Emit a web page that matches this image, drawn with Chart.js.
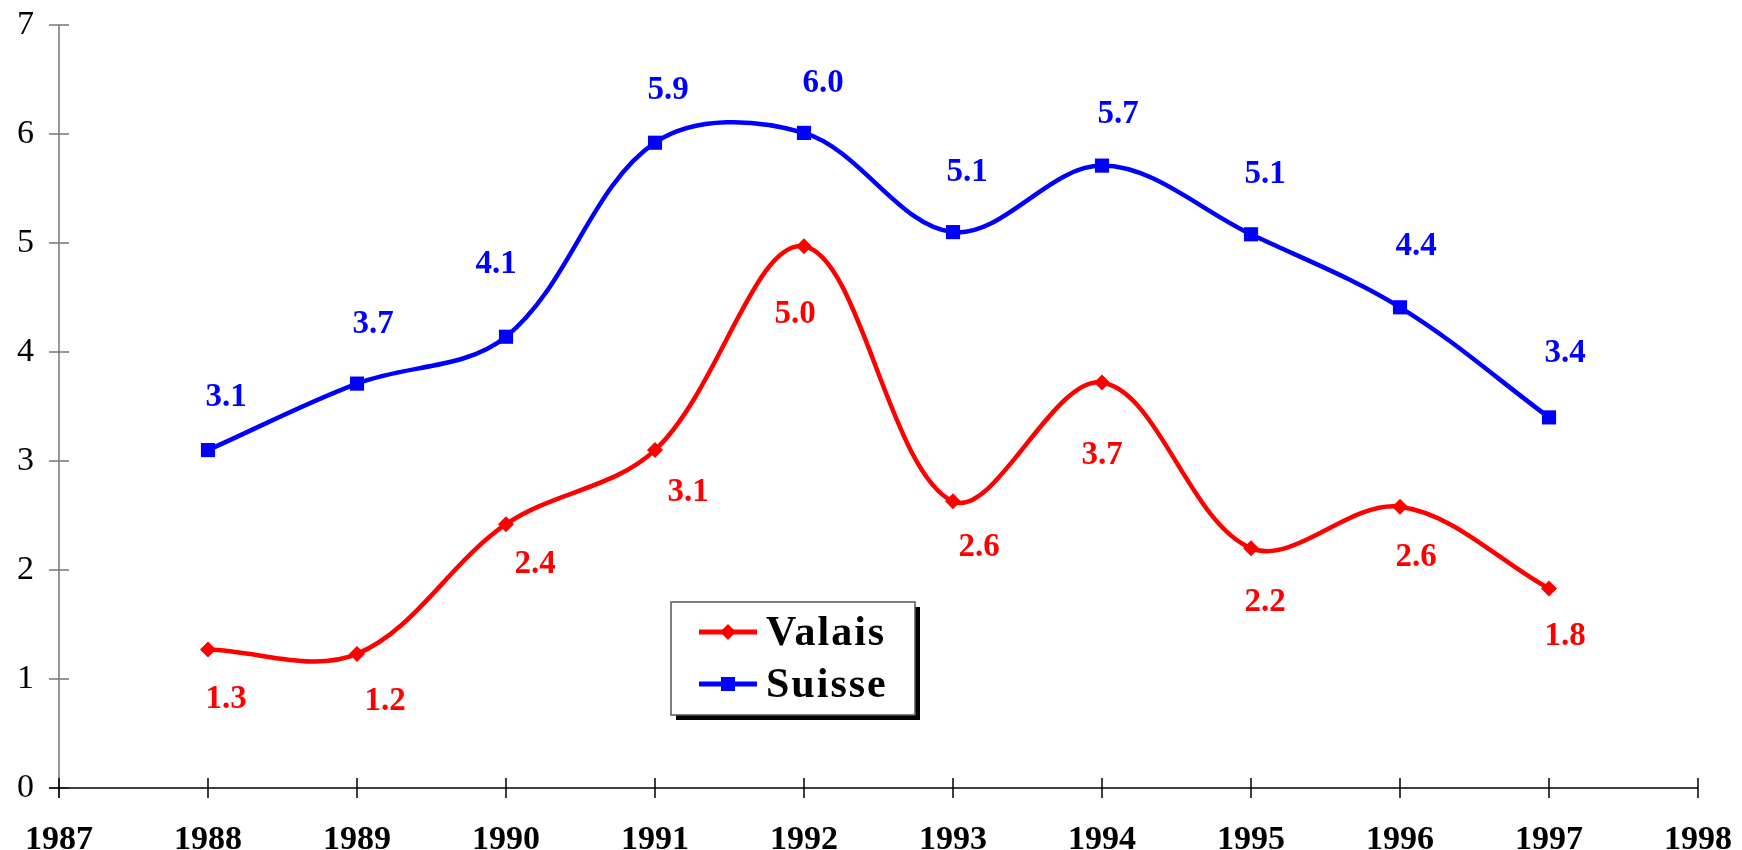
<!DOCTYPE html>
<html>
<head>
<meta charset="utf-8">
<script src="https://cdn.jsdelivr.net/npm/chart.js@4"></script>
<style>
  html, body { margin: 0; padding: 0; background: #fff; }
  #wrap { width: 1742px; height: 850px; }
</style>
</head>
<body>
<div id="wrap"><canvas id="myChart" width="1742" height="850"></canvas></div>
<script>
const years = [1988, 1989, 1990, 1991, 1992, 1993, 1994, 1995, 1996, 1997];
const valais = [1.27, 1.23, 2.42, 3.10, 4.97, 2.63, 3.72, 2.20, 2.58, 1.83];
const suisse = [3.10, 3.71, 4.14, 5.92, 6.01, 5.10, 5.71, 5.08, 4.41, 3.40];
const yTicks = [0, 1, 2, 3, 4, 5, 6, 7];
const xTicks = [1987, 1988, 1989, 1990, 1991, 1992, 1993, 1994, 1995, 1996, 1997, 1998];

// label offsets in px (dx, dy) from each point, like the original layout
const valaisOffsets = [[18, 50], [28, 48], [29, 40], [33, 42], [-9, 68], [26, 46], [0, 73], [14, 54], [16, 51], [16, 48]];
const suisseOffsets = [[18, -53], [16, -59], [-10, -72], [13, -52], [19, -49], [14, -60], [16, -51], [14, -60], [16, -61], [16, -64]];

const serif = '"Liberation Serif", "Times New Roman", serif';

const axesPlugin = {
  id: 'axes',
  afterDraw(chart) {
    const ctx = chart.ctx;
    const x = chart.scales.x;
    const y = chart.scales.y;
    const x0 = x.getPixelForValue(1987);
    const y0 = y.getPixelForValue(0);
    ctx.save();
    ctx.lineWidth = 1.5;
    // y axis
    ctx.strokeStyle = '#777';
    ctx.beginPath();
    ctx.moveTo(x0, y.getPixelForValue(7));
    ctx.lineTo(x0, y0 + 10);
    yTicks.forEach((v) => {
      const py = y.getPixelForValue(v);
      ctx.moveTo(x0 - 10, py);
      ctx.lineTo(x0 + 10, py);
    });
    ctx.stroke();
    // x axis
    ctx.strokeStyle = '#000';
    ctx.beginPath();
    ctx.moveTo(x0 - 10, y0);
    ctx.lineTo(x.getPixelForValue(1998), y0);
    xTicks.forEach((v) => {
      const px = x.getPixelForValue(v);
      ctx.moveTo(px, y0 - 10);
      ctx.lineTo(px, y0 + 10);
    });
    ctx.stroke();
    ctx.restore();
  },
};

const labelsPlugin = {
  id: 'pointLabels',
  afterDatasetsDraw(chart) {
    const ctx = chart.ctx;
    ctx.save();
    ctx.font = 'bold 33px ' + serif;
    ctx.textAlign = 'center';
    ctx.textBaseline = 'middle';
    chart.data.datasets.forEach((ds, i) => {
      const meta = chart.getDatasetMeta(i);
      const offs = ds.labelOffsets;
      ctx.fillStyle = ds.borderColor;
      meta.data.forEach((pt, j) => {
        const v = ds.data[j].y;
        ctx.fillText(v.toFixed(1), pt.x + offs[j][0], pt.y + offs[j][1]);
      });
    });
    ctx.restore();
  },
};

const legendPlugin = {
  id: 'boxLegend',
  afterDraw(chart) {
    const ctx = chart.ctx;
    const bx = 671, by = 602, bw = 244, bh = 113;
    ctx.save();
    ctx.fillStyle = '#000';
    ctx.fillRect(bx + 5, by + 5, bw, bh);
    ctx.fillStyle = '#fff';
    ctx.fillRect(bx, by, bw, bh);
    ctx.strokeStyle = '#555';
    ctx.lineWidth = 1.5;
    ctx.strokeRect(bx, by, bw, bh);
    const rows = [
      { text: 'Valais', color: '#ff0000', y: by + 30, diamond: true },
      { text: 'Suisse', color: '#0000ff', y: by + 82, diamond: false },
    ];
    rows.forEach((r) => {
      ctx.strokeStyle = r.color;
      ctx.fillStyle = r.color;
      ctx.lineWidth = 5;
      ctx.beginPath();
      ctx.moveTo(bx + 28, r.y);
      ctx.lineTo(bx + 86, r.y);
      ctx.stroke();
      const cx = bx + 57;
      if (r.diamond) {
        ctx.beginPath();
        ctx.moveTo(cx, r.y - 8);
        ctx.lineTo(cx + 8, r.y);
        ctx.lineTo(cx, r.y + 8);
        ctx.lineTo(cx - 8, r.y);
        ctx.closePath();
        ctx.fill();
      } else {
        ctx.fillRect(cx - 7, r.y - 7, 14, 14);
      }
      ctx.fillStyle = '#000';
      ctx.font = 'bold 42px ' + serif;
      ctx.letterSpacing = '2px';
      ctx.textAlign = 'left';
      ctx.textBaseline = 'middle';
      ctx.fillText(r.text, bx + 95, r.y + 2);
      ctx.letterSpacing = '0px';
    });
    ctx.restore();
  },
};

function createChart() {
  const ctx = document.getElementById('myChart').getContext('2d');
  new Chart(ctx, {
    type: 'line',
    data: {
      datasets: [
        {
          label: 'Valais',
          data: years.map((yr, i) => ({ x: yr, y: valais[i] })),
          borderColor: '#ff0000',
          backgroundColor: '#ff0000',
          borderWidth: 4.5,
          pointStyle: 'rectRot',
          pointRadius: 8,
          pointBorderWidth: 0,
          tension: 0.35,
          labelOffsets: valaisOffsets,
        },
        {
          label: 'Suisse',
          data: years.map((yr, i) => ({ x: yr, y: suisse[i] })),
          borderColor: '#0000ff',
          backgroundColor: '#0000ff',
          borderWidth: 4.5,
          pointStyle: 'rect',
          pointRadius: 10,
          pointBorderWidth: 0,
          tension: 0.35,
          labelOffsets: suisseOffsets,
        },
      ],
    },
    options: {
      responsive: false,
      animation: false,
      layout: { padding: { top: 25, right: 44, left: 0, bottom: 0 } },
      plugins: {
        legend: { display: false },
        tooltip: { enabled: false },
      },
      scales: {
        x: {
          type: 'linear',
          min: 1987,
          max: 1998,
          afterBuildTicks: (scale) => { scale.ticks = xTicks.map((v) => ({ value: v })); },
          afterFit: (scale) => {
            scale.height = 62;
            scale.paddingLeft = 0;
            scale.paddingRight = 0;
          },
          grid: { display: false, drawTicks: false },
          border: { display: false },
          ticks: {
            color: '#000',
            padding: 32,
            maxRotation: 0,
            font: { family: serif, size: 34, weight: 'bold' },
            callback: (v) => String(v),
          },
        },
        y: {
          min: 0,
          max: 7,
          afterBuildTicks: (scale) => { scale.ticks = yTicks.map((v) => ({ value: v })); },
          afterFit: (scale) => {
            scale.width = 59;
            scale.paddingTop = 0;
            scale.paddingBottom = 0;
          },
          grid: { display: false, drawTicks: false },
          border: { display: false },
          ticks: {
            color: '#000',
            padding: 25,
            font: { family: serif, size: 34 },
          },
        },
      },
    },
    plugins: [axesPlugin, labelsPlugin, legendPlugin],
  });
}

createChart();
</script>
</body>
</html>
